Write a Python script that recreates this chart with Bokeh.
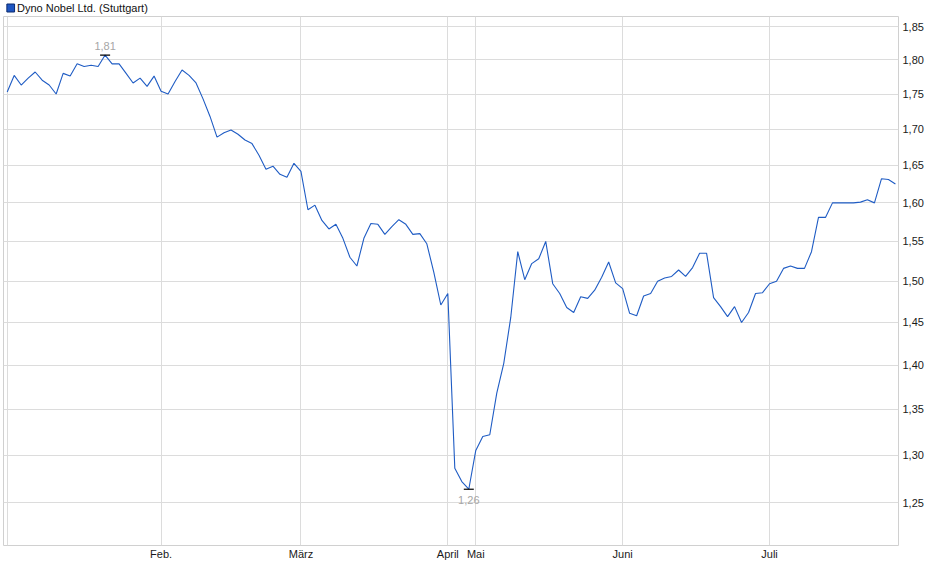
from bokeh.plotting import figure
from bokeh.layouts import column
from bokeh.models import Range1d, FixedTicker, CustomJSTickFormatter
from bokeh.embed import file_html
from bokeh.resources import INLINE
from bokeh.core.properties import value

title_text = "Dyno Nobel Ltd. (Stuttgart)"

# daily closing prices (EUR), one per trading day, Jan .. Jul
prices = [
    1.753, 1.777, 1.763, 1.773, 1.782, 1.770, 1.763, 1.750, 1.780, 1.776,
    1.794, 1.790, 1.792, 1.790, 1.807, 1.794, 1.794, 1.780, 1.766, 1.773,
    1.761, 1.776,
    1.754, 1.750, 1.768, 1.785, 1.777, 1.766, 1.743, 1.718, 1.689, 1.695,
    1.699, 1.693, 1.685, 1.680, 1.664, 1.645, 1.649, 1.638, 1.634, 1.653,
    1.642, 1.591, 1.597, 1.577, 1.566, 1.572, 1.554, 1.530, 1.519, 1.554,
    1.573, 1.572, 1.559, 1.569, 1.578, 1.572, 1.559, 1.560, 1.547, 1.511,
    1.471,
    1.485, 1.286, 1.272, 1.264,
    1.305, 1.320, 1.322, 1.368, 1.402, 1.456, 1.537, 1.502, 1.522, 1.528,
    1.550, 1.497, 1.485, 1.468, 1.462, 1.481, 1.479, 1.489, 1.505, 1.524,
    1.498,
    1.491, 1.461, 1.458, 1.482, 1.485, 1.500, 1.504, 1.506, 1.514, 1.506,
    1.517, 1.535, 1.535, 1.480, 1.469, 1.457, 1.469, 1.450, 1.462, 1.485,
    1.486,
    1.497, 1.500, 1.516, 1.519, 1.516, 1.516, 1.537, 1.581, 1.581, 1.600,
    1.600, 1.600, 1.600, 1.601, 1.604, 1.600, 1.632, 1.631, 1.625,
]

# position (trading-day index) of the first trading day of each month
month_start_index = [0, 22, 42, 63, 67, 88, 109]
month_labels = ["", "Feb.", "März", "April", "Mai", "Juni", "Juli"]

y_ticks = [1.25, 1.30, 1.35, 1.40, 1.45, 1.50, 1.55, 1.60, 1.65, 1.70, 1.75, 1.80, 1.85]

day_index = list(range(len(prices)))

W = 930
HEAD_H = 16
H = 554
BL, BR, BT, BB = 3, 32, 0, 25

FONT = "Liberation Sans"
GRID = "#dcdcdc"
LINE = "#1f5cc4"

# ---- header strip: series swatch + name ----
head = figure(width=W, height=HEAD_H, output_backend="svg", toolbar_location=None,
              x_range=Range1d(0, W), y_range=Range1d(0, HEAD_H),
              min_border_left=0, min_border_right=0, min_border_top=0, min_border_bottom=0,
              x_axis_type=None, y_axis_type=None, outline_line_color=None)
head.xgrid.visible = False
head.ygrid.visible = False
head.quad(left=[3.5], right=[11.5], top=[12.5], bottom=[4.5], fill_color="#1f56c2",
          line_color="#0b2a6e", line_width=1)
head.text(x=[14], y=[8.5], text=[title_text], text_baseline="middle", text_align="left",
          text_font=value(FONT), text_font_size="11px", text_color="#111111")

# ---- main chart ----
p = figure(width=W, height=H, output_backend="svg", toolbar_location=None,
           y_axis_type="log", y_axis_location="right", x_axis_location="below",
           x_range=Range1d(-0.529, 127.44),
           y_range=Range1d(1.2068, 1.8653),
           min_border_left=BL, min_border_right=BR, min_border_top=BT, min_border_bottom=BB,
           background_fill_color="white", border_fill_color="white")
p.outline_line_color = "#d0d0d0"
p.outline_line_width = 1

xt = FixedTicker(ticks=month_start_index)
yt = FixedTicker(ticks=y_ticks)
p.xaxis.ticker = xt
p.yaxis.ticker = yt
p.xgrid.ticker = xt
p.ygrid.ticker = yt
p.xgrid.grid_line_color = GRID
p.ygrid.grid_line_color = GRID
p.xgrid.grid_line_width = 1
p.ygrid.grid_line_width = 1

p.xaxis.formatter = CustomJSTickFormatter(
    args=dict(pos=month_start_index, lab=month_labels),
    code="const i = pos.indexOf(Math.round(tick)); return i >= 0 ? lab[i] : '';")
p.yaxis.formatter = CustomJSTickFormatter(code="return tick.toFixed(2).replace('.', ',');")

for ax in (p.xaxis[0], p.yaxis[0]):
    ax.axis_line_color = None
    ax.major_tick_line_color = None
    ax.minor_tick_line_color = None
    ax.major_tick_out = 0
    ax.major_tick_in = 0
    ax.minor_tick_out = 0
    ax.minor_tick_in = 0
    ax.major_label_text_font = FONT
    ax.major_label_text_font_size = "11px"
    ax.major_label_text_color = "#1a1a1a"
p.xaxis.major_label_standoff = 2
p.yaxis.major_label_standoff = 4

p.line(day_index, prices, line_color=LINE, line_width=1.1)

# extreme value markers
imax = max(day_index, key=lambda i: prices[i])
imin = min(day_index, key=lambda i: prices[i])
ext_x = [imax, imin]
ext_y = [prices[imax], prices[imin]]
ext_txt = [f"{v:.2f}".replace(".", ",") for v in ext_y]
p.scatter(ext_x, ext_y, marker="dash", size=10, line_color="black", line_width=1.2)
p.text(x=[imax], y=[prices[imax]], text=[ext_txt[0]], text_align="center", text_baseline="middle",
       y_offset=-9, text_font=value(FONT), text_font_size="11px", text_color="#a6a6a6")
p.text(x=[imin], y=[prices[imin]], text=[ext_txt[1]], text_align="center", text_baseline="middle",
       y_offset=11, text_font=value(FONT), text_font_size="11px", text_color="#a6a6a6")

layout = column(head, p, spacing=0)
open("out.html", "w").write(file_html(layout, INLINE))
